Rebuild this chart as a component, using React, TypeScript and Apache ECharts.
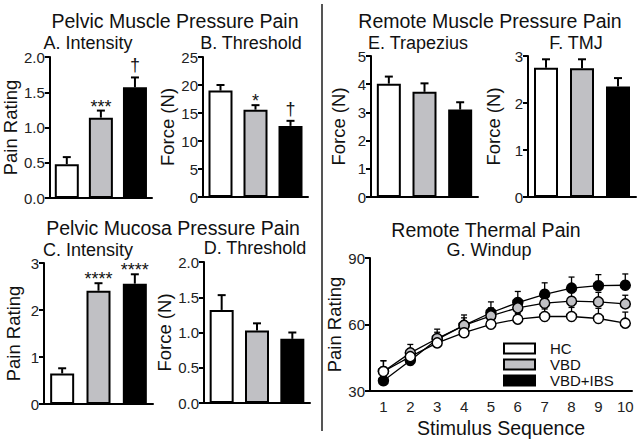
import React, { useEffect, useRef } from "react";
import * as echarts from "echarts";

const FONT = '"Liberation Sans", Arial, Helvetica, sans-serif';

// Groups
const groups = ["HC", "VBD", "VBD+IBS"];
const groupFill = ["#ffffff", "#c0c0c4", "#000000"];

// A. Pelvic muscle pressure pain – intensity (pain rating)
const aMean = [0.48, 1.14, 1.57];
const aErr = [0.58, 1.24, 1.71];
const aSig = ["", "***", "†"];
// B. Pelvic muscle pressure pain – threshold (force N)
const bMean = [19.0, 15.6, 12.7];
const bErr = [20.0, 16.4, 13.6];
const bSig = ["", "*", "†"];
// C. Pelvic mucosa pressure pain – intensity
const cMean = [0.65, 2.41, 2.56];
const cErr = [0.76, 2.57, 2.76];
const cSig = ["", "****", "****"];
// D. Pelvic mucosa pressure pain – threshold
const dMean = [1.32, 1.03, 0.91];
const dErr = [1.53, 1.13, 1.0];
const dSig = ["", "", ""];
// E. Remote muscle – trapezius
const eMean = [4.02, 3.73, 3.1];
const eErr = [4.27, 4.03, 3.36];
const eSig = ["", "", ""];
// F. Remote muscle – TMJ
const fMean = [2.75, 2.74, 2.35];
const fErr = [2.93, 2.93, 2.53];
const fSig = ["", "", ""];

// G. Windup
const stimulus = [1, 2, 3, 4, 5, 6, 7, 8, 9, 10];
const hcWind = [38.8, 45.5, 51.7, 56.3, 60.1, 62.4, 63.6, 63.6, 62.7, 60.6];
const vbdWind = [38.8, 47.2, 53.7, 59.6, 63.9, 67.5, 69.6, 70.5, 70.2, 69.3];
const ibsWind = [34.6, 43.8, 53.3, 59.6, 65.3, 69.9, 73.6, 76.4, 77.5, 77.7];
const hcWindErr = [43.6, 49.0, 55.0, 59.0, 62.0, 65.0, 67.0, 67.7, 67.3, 65.6];
const vbdWindErr = [43.7, 51.0, 57.9, 64.3, 67.5, 71.0, 72.7, 74.9, 74.5, 73.2];
const ibsWindErr = [37.5, 46.5, 56.5, 63.0, 70.2, 74.9, 78.8, 81.4, 82.5, 82.8];
const yTicksG = [30, 60, 90];

const panels = [
  { grid: { left: 42, top: 57, width: 110, height: 141 }, min: 0, max: 2, interval: 0.5, dec: 1, name: "Pain Rating", nameGap: 22, mean: aMean, err: aErr, sig: aSig },
  { grid: { left: 203, top: 57, width: 105, height: 140 }, min: 0, max: 25, interval: 5, dec: 0, name: "Force (N)", nameGap: 25, mean: bMean, err: bErr, sig: bSig },
  { grid: { left: 44, top: 263, width: 109, height: 141 }, min: 0, max: 3, interval: 1, dec: 0, name: "Pain Rating", nameGap: 21, mean: cMean, err: cErr, sig: cSig },
  { grid: { left: 204, top: 262, width: 106, height: 141 }, min: 0, max: 2, interval: 0.5, dec: 1, name: "Force (N)", nameGap: 27, mean: dMean, err: dErr, sig: dSig },
  { grid: { left: 371, top: 56, width: 107, height: 141 }, min: 0, max: 5, interval: 1, dec: 0, name: "Force (N)", nameGap: 23, mean: eMean, err: eErr, sig: eSig },
  { grid: { left: 528, top: 56, width: 108, height: 141 }, min: 0, max: 3, interval: 1, dec: 0, name: "Force (N)", nameGap: 25, mean: fMean, err: fErr, sig: fSig },
];

const titles = [
  { text: "Pelvic Muscle Pressure Pain", x: 175, y: 21, size: 19.5 },
  { text: "A. Intensity", x: 88, y: 43, size: 18 },
  { text: "B. Threshold", x: 251, y: 43, size: 18 },
  { text: "Pelvic Mucosa Pressure Pain", x: 173, y: 228, size: 19.5 },
  { text: "C. Intensity", x: 88, y: 250, size: 18 },
  { text: "D. Threshold", x: 255, y: 248, size: 18 },
  { text: "Remote Muscle Pressure Pain", x: 490, y: 21, size: 19.5 },
  { text: "E. Trapezius", x: 418, y: 43, size: 18 },
  { text: "F. TMJ", x: 576, y: 43, size: 18 },
  { text: "Remote Thermal Pain", x: 486, y: 230, size: 19.5 },
  { text: "G. Windup", x: 489, y: 250, size: 18 },
];

const axisLineStyle = { lineStyle: { color: "#000", width: 2 } };
const nameStyle = { fontSize: 18.5, fontFamily: FONT, color: "#111" };
const labelStyle = { margin: 5, fontSize: 15, fontFamily: FONT, color: "#222" };

function buildOption() {
  const grid: any[] = [];
  const xAxis: any[] = [];
  const yAxis: any[] = [];
  const series: any[] = [];

  panels.forEach((p, k) => {
    grid.push({ ...p.grid, containLabel: false });
    xAxis.push({
      type: "category",
      gridIndex: k,
      data: groups,
      boundaryGap: true,
      axisLine: axisLineStyle,
      axisTick: { show: false },
      axisLabel: { show: false },
      splitLine: { show: false },
    });
    yAxis.push({
      type: "value",
      gridIndex: k,
      min: p.min,
      max: p.max,
      interval: p.interval,
      name: p.name,
      nameLocation: "middle",
      nameGap: p.nameGap,
      nameTextStyle: nameStyle,
      axisLine: { show: true, ...axisLineStyle },
      axisTick: { show: true, length: 5, lineStyle: { color: "#000", width: 2 } },
      axisLabel: { ...labelStyle, formatter: (v: number) => v.toFixed(p.dec) },
      splitLine: { show: false },
    });
    series.push({
      type: "bar",
      xAxisIndex: k,
      yAxisIndex: k,
      barWidth: 24,
      data: p.mean.map((m, i) => ({
        value: m,
        itemStyle: { color: groupFill[i], borderColor: "#000", borderWidth: 2 },
      })),
      z: 2,
    });
    const sig = p.sig;
    series.push({
      type: "custom",
      xAxisIndex: k,
      yAxisIndex: k,
      z: 3,
      clip: false,
      data: p.mean.map((m, i) => [i, p.err[i], m]),
      renderItem: (params: any, api: any) => {
        const i = api.value(0);
        const up = api.value(1);
        const m = api.value(2);
        const p1 = api.coord([i, up]);
        const p0 = api.coord([i, m]);
        const s = sig[params.dataIndex] || "";
        const children: any[] = [
          { type: "line", shape: { x1: p0[0], y1: p0[1], x2: p1[0], y2: p1[1] }, style: { stroke: "#000", lineWidth: 2 } },
          { type: "line", shape: { x1: p1[0] - 4, y1: p1[1], x2: p1[0] + 4, y2: p1[1] }, style: { stroke: "#000", lineWidth: 2 } },
        ];
        if (s) {
          const dag = s === "†";
          children.push({
            type: "text",
            x: p1[0],
            y: p1[1] + (dag ? -3 : 5),
            style: {
              text: s,
              align: "center",
              verticalAlign: "bottom",
              fontSize: 18,
              fontFamily: FONT,
              fill: "#111",
            },
          });
        }
        return { type: "group", children };
      },
    });
  });

  // Panel G
  const g = panels.length;
  grid.push({ left: 370, top: 258, width: 262, height: 140 });
  xAxis.push({
    type: "value",
    gridIndex: g,
    min: 0.5,
    max: 10.25,
    name: "Stimulus Sequence",
    nameLocation: "middle",
    nameGap: 27,
    nameTextStyle: { ...nameStyle, fontSize: 19.5 },
    axisLine: { show: true, ...axisLineStyle },
    axisTick: { show: false, customValues: stimulus },
    axisLabel: { ...labelStyle, customValues: stimulus, margin: 8 },
    splitLine: { show: false },
  });
  yAxis.push({
    type: "value",
    gridIndex: g,
    min: 30,
    max: 90,
    interval: 30,
    name: "Pain Rating",
    nameLocation: "middle",
    nameGap: 21,
    nameTextStyle: nameStyle,
    axisLine: { show: true, ...axisLineStyle },
    axisTick: { show: true, length: 5, lineStyle: { color: "#000", width: 2 } },
    axisLabel: { ...labelStyle, customValues: yTicksG },
    splitLine: { show: false },
  });

  const windSets = [
    { name: groups[0], mean: hcWind, err: hcWindErr, fill: groupFill[0] },
    { name: groups[1], mean: vbdWind, err: vbdWindErr, fill: groupFill[1] },
    { name: groups[2], mean: ibsWind, err: ibsWindErr, fill: groupFill[2] },
  ];
  windSets.forEach((w) => {
    series.push({
      type: "custom",
      xAxisIndex: g,
      yAxisIndex: g,
      z: 2,
      data: stimulus.map((x, i) => [x, w.err[i], w.mean[i]]),
      renderItem: (params: any, api: any) => {
        const p1 = api.coord([api.value(0), api.value(1)]);
        const p0 = api.coord([api.value(0), api.value(2)]);
        return {
          type: "group",
          children: [
            { type: "line", shape: { x1: p0[0], y1: p0[1], x2: p1[0], y2: p1[1] }, style: { stroke: "#000", lineWidth: 1.3 } },
            { type: "line", shape: { x1: p1[0] - 3, y1: p1[1], x2: p1[0] + 3, y2: p1[1] }, style: { stroke: "#000", lineWidth: 1.3 } },
          ],
        };
      },
    });
  });
  [windSets[2], windSets[1], windSets[0]].forEach((w, k) => {
    series.push({
      type: "line",
      name: w.name,
      xAxisIndex: g,
      yAxisIndex: g,
      z: 3 + k,
      data: stimulus.map((x, i) => [x, w.mean[i]]),
      symbol: "circle",
      symbolSize: 10,
      itemStyle: { color: w.fill, borderColor: "#000", borderWidth: 1.5 },
      lineStyle: { color: "#000", width: 1.3 },
    });
  });

  const graphic: any[] = titles.map((t) => ({
    type: "text",
    x: t.x,
    y: t.y,
    style: {
      text: t.text,
      align: "center",
      verticalAlign: "middle",
      fontSize: t.size,
      fontFamily: FONT,
      fill: "#111",
    },
  }));
  graphic.push({
    type: "line",
    shape: { x1: 322, y1: 4, x2: 322, y2: 431 },
    style: { stroke: "#555", lineWidth: 2 },
  });

  return {
    animation: false,
    backgroundColor: "#ffffff",
    grid,
    xAxis,
    yAxis,
    series,
    graphic,
    legend: {
      data: groups,
      orient: "vertical",
      left: 498,
      top: 336,
      icon: "rect",
      itemWidth: 31,
      itemHeight: 10,
      itemGap: 1,
      itemStyle: { borderColor: "#000", borderWidth: 2 },
      textStyle: { fontSize: 15, fontFamily: FONT, color: "#111", lineHeight: 15, padding: [0, 0, 0, 10] },
    },
  };
}

export default function App() {
  const ref = useRef<HTMLDivElement>(null);
  useEffect(() => {
    if (!ref.current) return;
    const chart = echarts.init(ref.current, null, { renderer: "svg" });
    chart.setOption(buildOption() as any);
    return () => chart.dispose();
  }, []);
  return (
    <div
      ref={ref}
      style={{ position: "fixed", left: 0, top: 0, width: 644, height: 439, background: "#fff" }}
    />
  );
}
